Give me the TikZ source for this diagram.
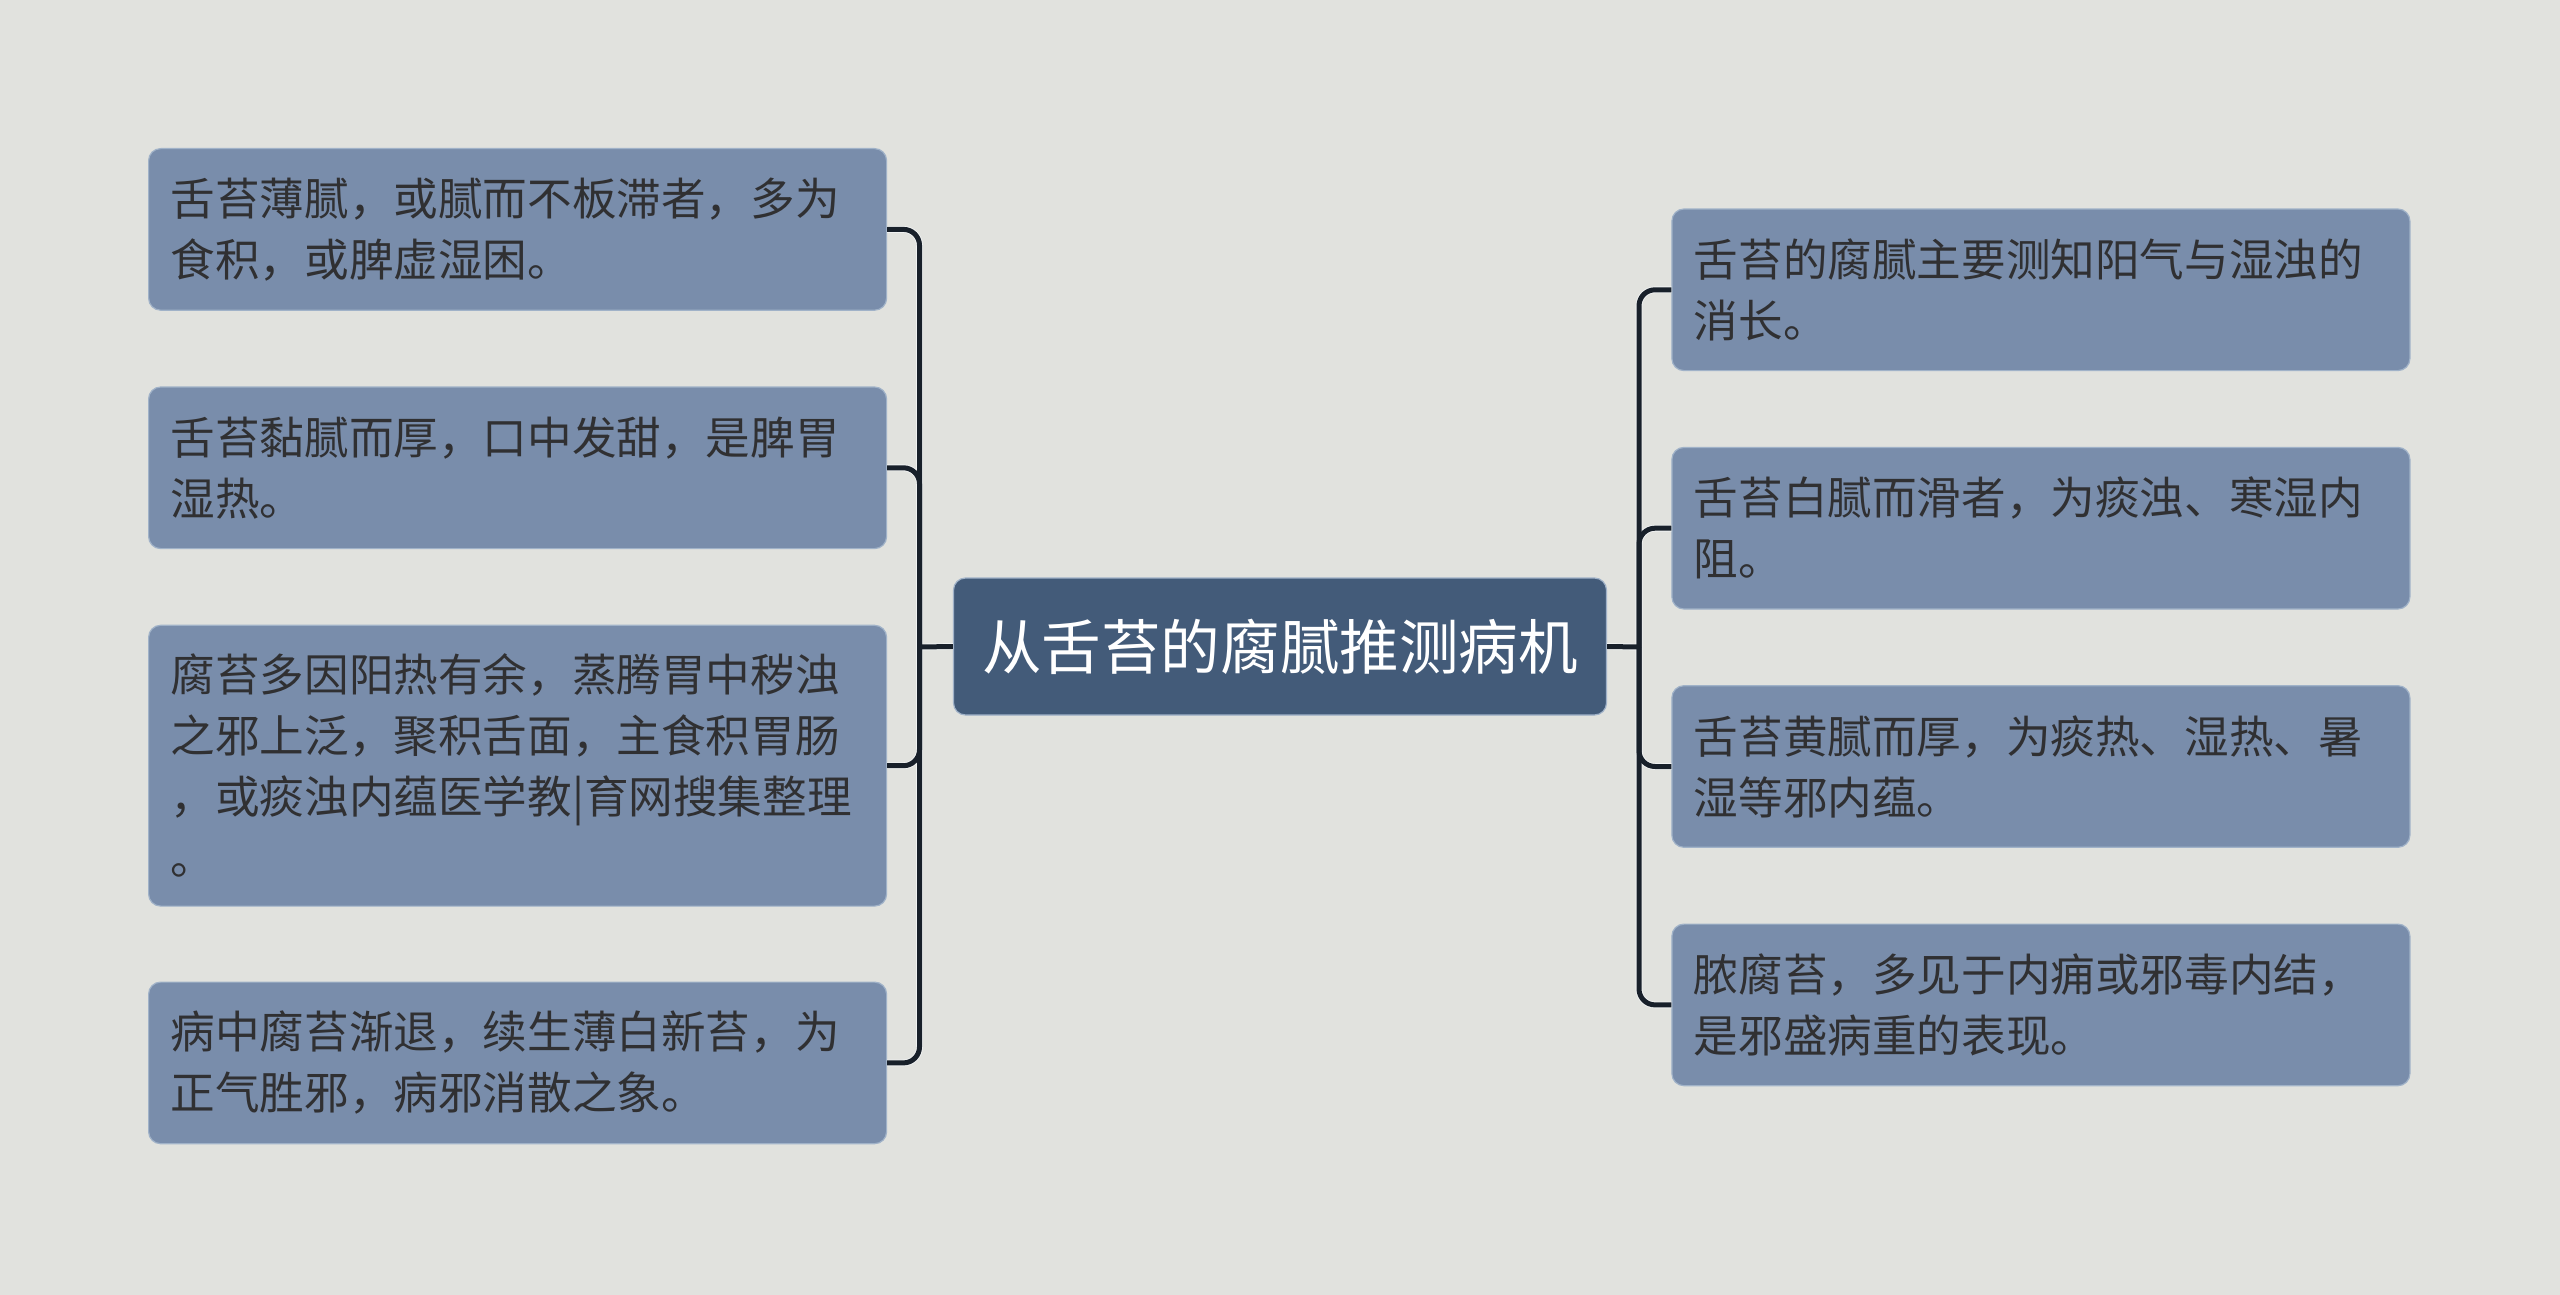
\documentclass[tikz,border=0pt]{standalone}
\usepackage{fontspec}
\setmainfont{Noto Sans CJK SC}
\definecolor{bgcol}{RGB}{225,226,222}
\definecolor{boxfill}{RGB}{121,141,171}
\definecolor{boxedge}{RGB}{160,178,200}
\definecolor{centerfill}{RGB}{67,91,121}
\definecolor{textdark}{RGB}{48,48,50}
\definecolor{conncol}{RGB}{24,32,42}
\definecolor{halocol}{RGB}{240,242,242}
\tikzset{
  leafbox/.style={rectangle, rounded corners=6pt, fill=boxfill, draw=boxedge, line width=0.6pt,
    text=textdark, text width=347pt, align=left, inner xsep=11pt, inner ysep=0pt,
    minimum height=80.8pt, font=\fontsize{22.3pt}{30.5pt}\selectfont},
  rootbox/.style={rectangle, rounded corners=6pt, fill=centerfill, draw=boxedge, line width=0.6pt,
    text=white, minimum width=326.5pt, minimum height=68.5pt, inner sep=0pt,
    font=\fontsize{29.8pt}{34pt}\selectfont},
  conn/.style={draw=conncol, line width=2.5pt},
  halo/.style={draw=halocol, line width=3.4pt},
}
\begin{document}
\begin{tikzpicture}[x=0.5pt,y=-0.5pt]
\fill[bgcol] (0,0) rectangle (2560,1295);
\useasboundingbox (0,0) rectangle (2560,1295);

\coordinate (lj) at (919.5,647);
\coordinate (rj) at (1639,647);

\node[leafbox] (l1) at (517.6,229.4) {舌苔薄腻，或腻而不板滞者，多为\\食积，或脾虚湿困。};
\node[leafbox] (l2) at (517.6,467.8) {舌苔黏腻而厚，口中发甜，是脾胃\\湿热。};
\node[leafbox, minimum height=140.4pt] (l3) at (517.6,765.7) {腐苔多因阳热有余，蒸腾胃中秽浊\\之邪上泛，聚积舌面，主食积胃肠\\，或痰浊内蕴医学教|育网搜集整理\\。};
\node[leafbox] (l4) at (517.6,1062.9) {病中腐苔渐退，续生薄白新苔，为\\正气胜邪，病邪消散之象。};

\node[leafbox] (r1) at (2040.9,289.8) {舌苔的腐腻主要测知阳气与湿浊的\\消长。};
\node[leafbox] (r2) at (2040.9,528.2) {舌苔白腻而滑者，为痰浊、寒湿内\\阻。};
\node[leafbox] (r3) at (2040.9,766.5) {舌苔黄腻而厚，为痰热、湿热、暑\\湿等邪内蕴。};
\node[leafbox] (r4) at (2040.9,1004.9) {脓腐苔，多见于内痈或邪毒内结，\\是邪盛病重的表现。};

\node[rootbox] (c) at (1280,646.5) {从舌苔的腐腻推测病机};

\begin{scope}[on background layer/.style={}]
\foreach \n in {l1,l2,l3,l4} \draw[halo, rounded corners=8pt] (lj) |- (\n.east);
\foreach \n in {r1,r2,r3,r4} \draw[halo, rounded corners=8pt] (rj) |- (\n.west);
\draw[halo] (c.west) -- (lj);
\draw[halo] (c.east) -- (rj);
\end{scope}
\draw[conn] (c.west) -- (lj);
\draw[conn] (c.east) -- (rj);
\foreach \n in {l1,l2,l3,l4} \draw[conn, rounded corners=8pt] (lj) |- (\n.east);
\foreach \n in {r1,r2,r3,r4} \draw[conn, rounded corners=8pt] (rj) |- (\n.west);
\end{tikzpicture}
\end{document}
